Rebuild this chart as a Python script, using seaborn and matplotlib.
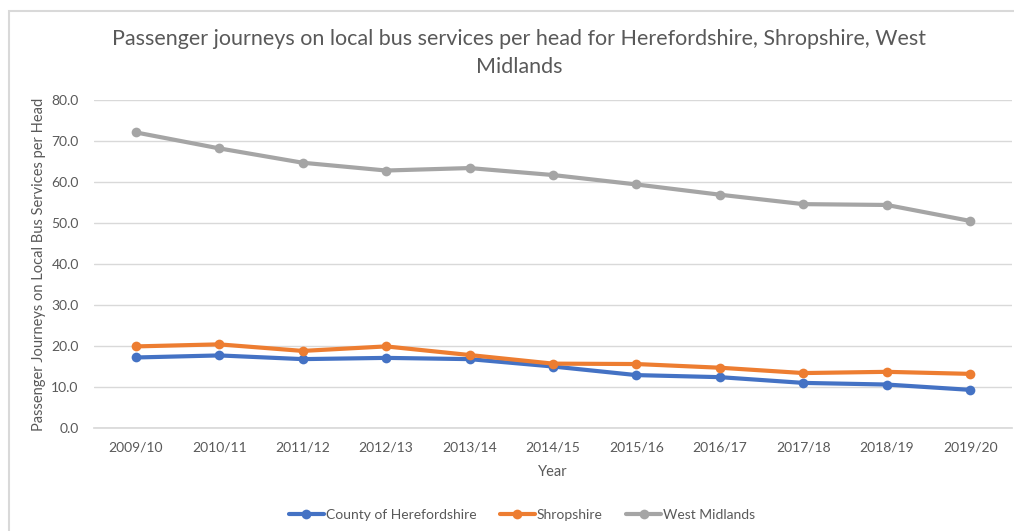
import matplotlib
matplotlib.use("Agg")
import matplotlib.pyplot as plt
import seaborn as sns
import pandas as pd
from matplotlib.lines import Line2D
from matplotlib.patches import Rectangle

years = ["2009/10", "2010/11", "2011/12", "2012/13", "2013/14", "2014/15",
         "2015/16", "2016/17", "2017/18", "2018/19", "2019/20"]
herefordshire = [17.2, 17.7, 16.8, 17.1, 16.8, 15.0, 12.9, 12.4, 11.0, 10.6, 9.3]
shropshire = [19.9, 20.4, 18.8, 19.9, 17.8, 15.7, 15.6, 14.7, 13.4, 13.7, 13.2]
west_midlands = [72.1, 68.2, 64.7, 62.8, 63.4, 61.7, 59.4, 56.9, 54.6, 54.4, 50.5]
series_names = ["County of Herefordshire", "Shropshire", "West Midlands"]
colors = ["#4472C4", "#ED7D31", "#A5A5A5"]

df = pd.concat([
    pd.DataFrame({"Year": years, "Value": vals, "Series": name})
    for name, vals in zip(series_names, [herefordshire, shropshire, west_midlands])
])

sns.set_theme(style="white")
plt.rcParams["font.family"] = ["Lato", "DejaVu Sans"]
txt = "#595959"

fig = plt.figure(figsize=(10.14, 5.31), dpi=100)
ax = fig.add_axes([94 / 1014, 1 - 428 / 531, (1012 - 94) / 1014, (428 - 100) / 531])

# chart border
fig.patches.append(Rectangle((8.5 / 1014, -0.1), 1.2, (531 - 10.5) / 531 + 0.1,
                             transform=fig.transFigure, fill=False,
                             edgecolor="#D9D9D9", linewidth=1.5))

sns.lineplot(data=df, x="Year", y="Value", hue="Series", palette=colors,
             marker="o", markersize=7, markeredgewidth=0, linewidth=3,
             sort=False, ax=ax, legend=False)

ax.set_xlim(-0.5, len(years) - 0.5)
ax.set_ylim(0, 80)
ax.set_yticks(range(0, 81, 10))
ax.set_yticklabels([f"{v:.1f}" for v in range(0, 81, 10)])
ax.grid(axis="y", color="#D9D9D9", linewidth=1)
ax.set_axisbelow(True)
for s in ["top", "right", "left"]:
    ax.spines[s].set_visible(False)
ax.spines["bottom"].set_color("#D9D9D9")
ax.tick_params(axis="both", colors=txt, labelsize=10, length=0)
ax.tick_params(axis="x", pad=10)
ax.tick_params(axis="y", pad=11)
ax.set_xlabel("Year", color=txt, fontsize=10.5, labelpad=8)
ax.set_ylabel("Passenger Journeys on Local Bus Services per Head", color=txt,
              fontsize=10.5, labelpad=4)

fig.text(0.512, 1 - 53 / 531,
         "Passenger journeys on local bus services per head for Herefordshire, Shropshire, West\nMidlands",
         ha="center", va="center", multialignment="center", color=txt,
         fontsize=15.5, linespacing=1.45)

handles = [Line2D([0], [0], color=c, linewidth=3, marker="o", markersize=7,
                  markeredgewidth=0) for c in colors]
fig.legend(handles, series_names, loc="center", bbox_to_anchor=(0.515, 1 - 515 / 531),
           ncol=3, frameon=False, fontsize=10, labelcolor=txt, handlelength=2.5,
           handletextpad=0.15, columnspacing=1.7)

fig.savefig("out.png", dpi=100)
